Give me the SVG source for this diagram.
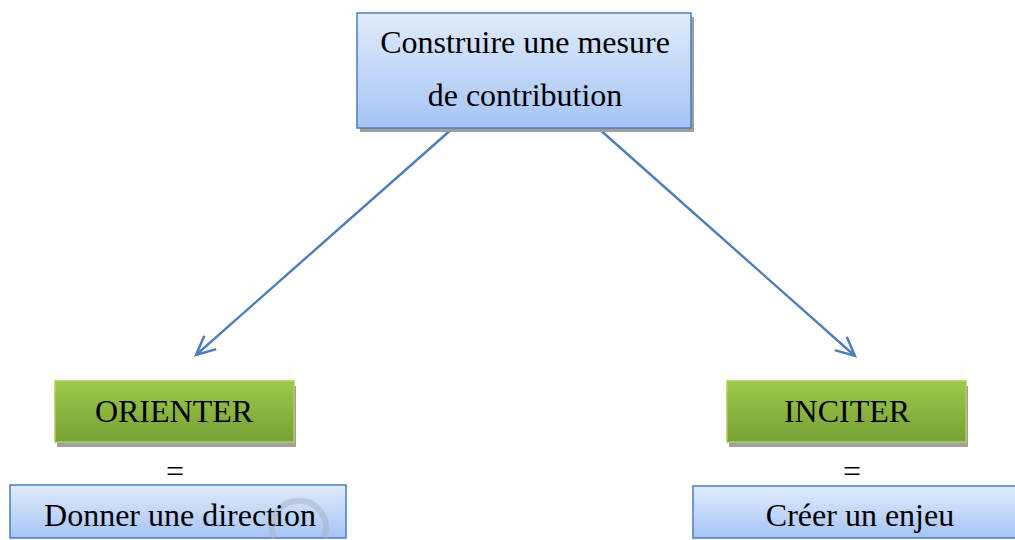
<svg xmlns="http://www.w3.org/2000/svg" width="1015" height="540" viewBox="0 0 1015 540">
  <defs>
    <linearGradient id="blueFill" x1="0" y1="0" x2="0" y2="1">
      <stop offset="0" stop-color="#e0ebfc"/>
      <stop offset="1" stop-color="#a6c4f6"/>
    </linearGradient>
    <linearGradient id="greenFill" x1="0" y1="0" x2="0" y2="1">
      <stop offset="0" stop-color="#9dc94b"/>
      <stop offset="1" stop-color="#76a034"/>
    </linearGradient>
    <marker id="openArrow" markerWidth="26" markerHeight="26" refX="22" refY="13" orient="auto" markerUnits="userSpaceOnUse">
      <path d="M3,4 L22,13 L3,22" fill="none" stroke="#4a7ebb" stroke-width="2.4"/>
    </marker>
  </defs>
  <style>
    .label { font-family: "Liberation Serif", "Times New Roman", serif; font-size: 32px; fill: #000; text-anchor: middle; }
    .shadow { fill: #a0a0a0; }
    .blue { fill: url(#blueFill); stroke: #4a7ebb; stroke-width: 1.5; }
    .green { fill: url(#greenFill); stroke: #a8d05a; stroke-width: 1.5; }
    .link { stroke: #4a7ebb; stroke-width: 2.4; fill: none; }
  </style>
  <rect width="1015" height="540" fill="#ffffff"/>

  <g id="connectors">
    <line class="link" x1="453" y1="128" x2="196" y2="355" marker-end="url(#openArrow)"/>
    <line class="link" x1="598" y1="128" x2="855" y2="356" marker-end="url(#openArrow)"/>
  </g>

  <g id="node-root">
    <rect class="shadow" x="360" y="17" width="334" height="115"/>
    <rect class="blue" x="357" y="13" width="334" height="115"/>
    <text class="label" x="525" y="53">Construire une mesure</text>
    <text class="label" x="525" y="106">de contribution</text>
  </g>

  <g id="node-orienter">
    <rect class="shadow" x="57" y="386" width="239" height="61"/>
    <rect class="green" x="55" y="381" width="239" height="61"/>
    <text class="label" x="174" y="422">ORIENTER</text>
  </g>

  <g id="node-inciter">
    <rect class="shadow" x="729" y="386" width="239" height="61"/>
    <rect class="green" x="727" y="381" width="239" height="61"/>
    <text class="label" x="847" y="422">INCITER</text>
  </g>

  <g id="eq-left">
    <text class="label" x="175" y="482">=</text>
  </g>
  <g id="eq-right">
    <text class="label" x="852" y="482">=</text>
  </g>

  <g id="node-direction">
    <rect class="blue" x="10" y="485" width="336" height="53"/>
    <path d="M274,538 A27,27 0 1,1 324,538" fill="none" stroke="#a9b0c0" stroke-width="6" opacity="0.5"/>
    <text class="label" x="180" y="526">Donner une direction</text>
  </g>

  <g id="node-enjeu">
    <rect class="blue" x="693" y="486" width="330" height="52"/>
    <text class="label" x="860" y="526">Créer un enjeu</text>
  </g>
</svg>
